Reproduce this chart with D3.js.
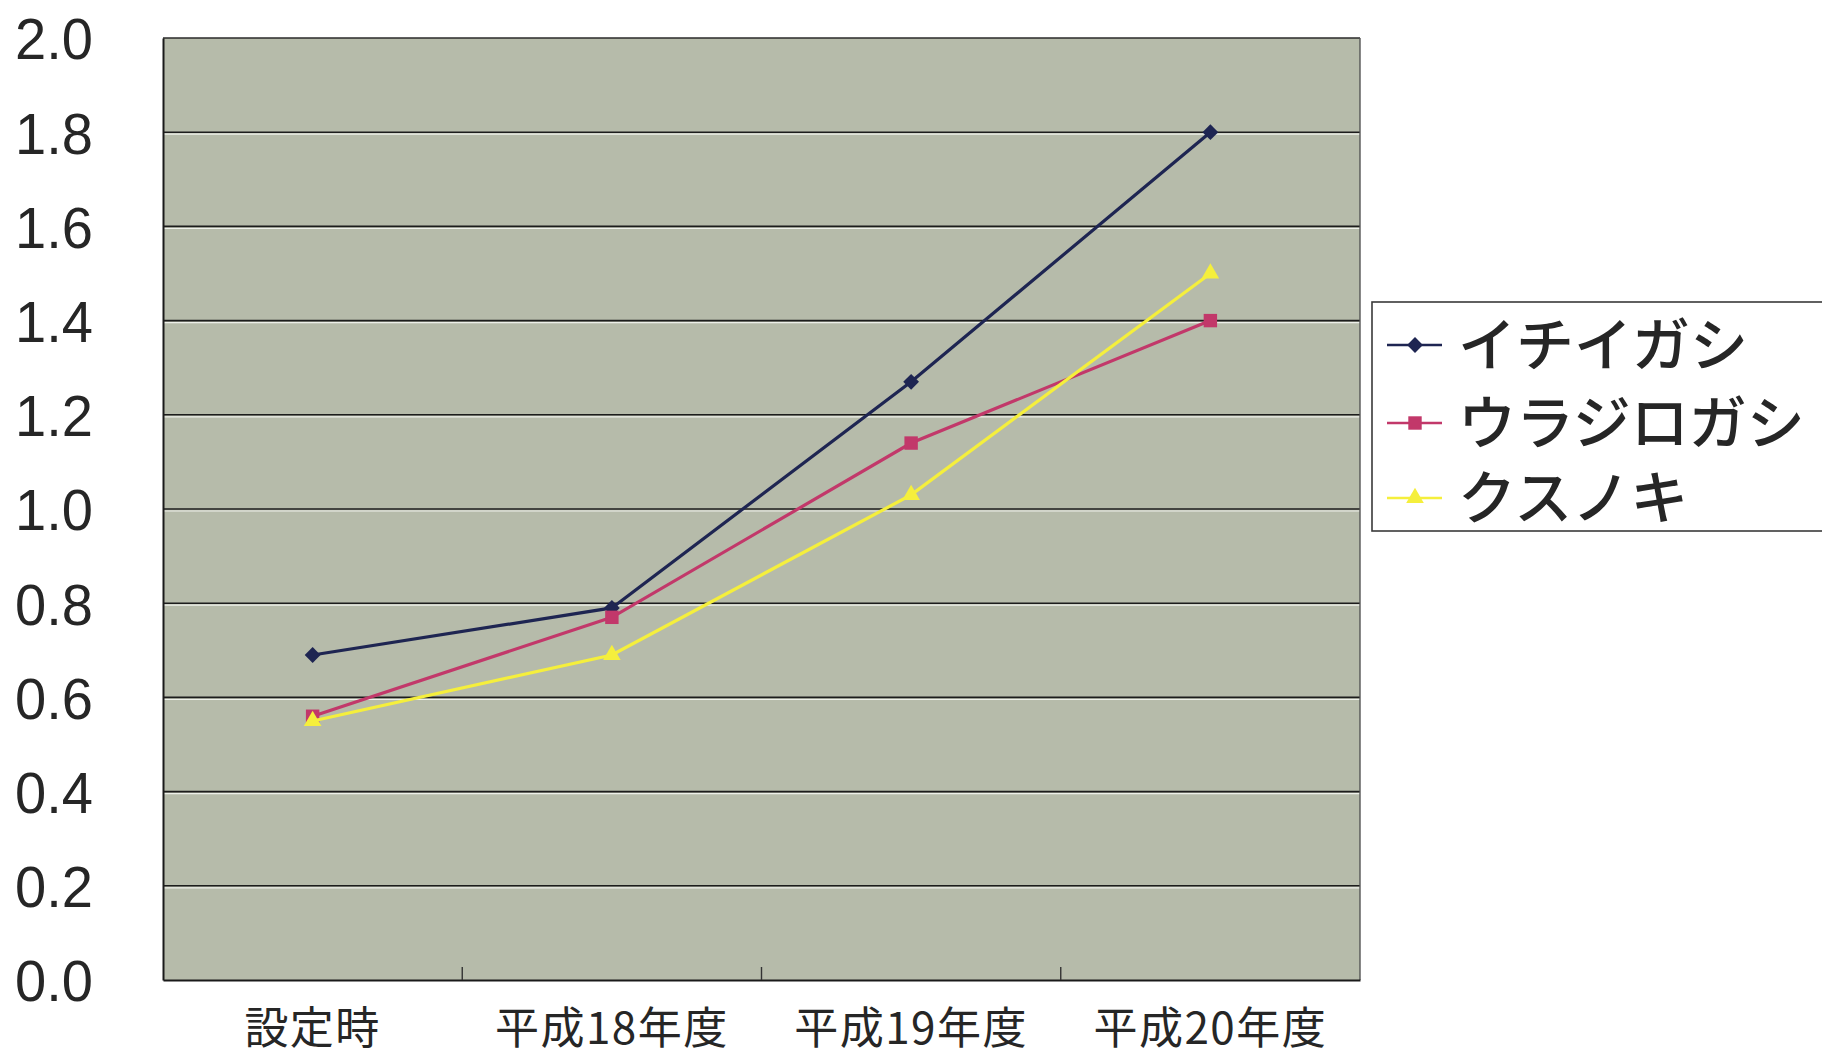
<!DOCTYPE html>
<html>
<head>
<meta charset="utf-8">
<script src="https://cdn.jsdelivr.net/npm/d3@7"></script>
<style>
  html, body { margin: 0; padding: 0; background: #ffffff; }
  svg { display: block; }
</style>
</head>
<body>
<svg id="chart" width="1822" height="1058"></svg>
<script>
// Categories (survey timing) and y-axis ticks
const categories = ["設定時", "平成18年度", "平成19年度", "平成20年度"];
const yTicks = [0.0, 0.2, 0.4, 0.6, 0.8, 1.0, 1.2, 1.4, 1.6, 1.8, 2.0];

// Series values per species
const seriesNames = ["イチイガシ", "ウラジロガシ", "クスノキ"];
const ichiigashi = [0.69, 0.79, 1.27, 1.80];
const urajirogashi = [0.56, 0.77, 1.14, 1.40];
const kusunoki = [0.55, 0.69, 1.03, 1.50];

const seriesValues = [ichiigashi, urajirogashi, kusunoki];
const seriesColors = ["#1e2552", "#c2386a", "#f5ef3c"];
// Diamond = square turned 45 degrees
const seriesSymbols = [d3.symbolSquare, d3.symbolSquare, d3.symbolTriangle];
const symbolRotate = [45, 0, 0];
const symbolSizes = [125, 180, 135];

const svg = d3.select("#chart");

const plot = { left: 163, right: 1360, top: 38, bottom: 980 };

const x = d3.scaleBand().domain(categories).range([plot.left, plot.right]).padding(0);
const y = d3.scaleLinear().domain([0, 2]).range([plot.bottom, plot.top]);

// Plot area background
svg.append("rect")
  .attr("x", plot.left).attr("y", plot.top)
  .attr("width", plot.right - plot.left).attr("height", plot.bottom - plot.top)
  .attr("fill", "#b6bbaa");

// Horizontal gridlines with a light edge beneath each
const gridVals = yTicks.filter(t => t > 0 && t < 2);
const grid = svg.append("g");
grid.selectAll("line.hi")
  .data(gridVals)
  .join("line")
  .attr("class", "hi")
  .attr("x1", plot.left).attr("x2", plot.right)
  .attr("y1", d => y(d) + 2).attr("y2", d => y(d) + 2)
  .attr("stroke", "#eef0ea").attr("stroke-width", 1.2);
grid.selectAll("line.g")
  .data(gridVals)
  .join("line")
  .attr("class", "g")
  .attr("x1", plot.left).attr("x2", plot.right)
  .attr("y1", d => y(d)).attr("y2", d => y(d))
  .attr("stroke", "#1c1c1c").attr("stroke-width", 1.6);

// Plot frame
svg.append("line").attr("x1", plot.left).attr("x2", plot.right).attr("y1", plot.top).attr("y2", plot.top)
  .attr("stroke", "#2a2a2a").attr("stroke-width", 1.6);
svg.append("line").attr("x1", plot.right).attr("x2", plot.right).attr("y1", plot.top).attr("y2", plot.bottom)
  .attr("stroke", "#555").attr("stroke-width", 1.4);

// Y axis
const yAxis = d3.axisLeft(y).tickValues(yTicks).tickFormat(d3.format(".1f")).tickSize(0).tickPadding(0);
const yg = svg.append("g").attr("transform", `translate(${plot.left},0)`).call(yAxis);
yg.select(".domain").attr("stroke", "#1a1a1a").attr("stroke-width", 2);
yg.selectAll("text")
  .attr("x", 93 - plot.left)
  .attr("dy", "0.36em")
  .attr("fill", "#262626")
  .style("font-family", "'Liberation Sans', Arial, sans-serif")
  .style("font-size", "58px")
  .attr("text-anchor", "end")
  .attr("textLength", 78)
  .attr("lengthAdjust", "spacingAndGlyphs");

// X axis: ticks between categories, pointing into the plot
const xAxis = d3.axisBottom(x).tickSize(0).tickPadding(0);
const xg = svg.append("g").attr("transform", `translate(0,${plot.bottom})`).call(xAxis);
xg.select(".domain").attr("stroke", "#1a1a1a").attr("stroke-width", 2);
xg.selectAll("text")
  .attr("y", 64)
  .attr("dy", 0)
  .attr("fill", "#262626")
  .style("font-family", "'Noto Sans CJK JP', sans-serif")
  .style("font-size", "44px")
  .style("letter-spacing", "1.5px");
xg.selectAll("line.sep")
  .data(categories.slice(1))
  .join("line")
  .attr("class", "sep")
  .attr("x1", d => x(d)).attr("x2", d => x(d))
  .attr("y1", 0).attr("y2", -13)
  .attr("stroke", "#333").attr("stroke-width", 1.4);

// Series lines and markers
const line = d3.line()
  .x((d, i) => x(categories[i]) + x.bandwidth() / 2)
  .y(d => y(d));

seriesValues.forEach((vals, s) => {
  const g = svg.append("g");
  g.append("path")
    .datum(vals)
    .attr("d", line)
    .attr("fill", "none")
    .attr("stroke", seriesColors[s])
    .attr("stroke-width", 3.2);
  g.selectAll("path.m")
    .data(vals)
    .join("path")
    .attr("class", "m")
    .attr("transform", (d, i) => `translate(${x(categories[i]) + x.bandwidth() / 2},${y(d)}) rotate(${symbolRotate[s]})`)
    .attr("d", d3.symbol().type(seriesSymbols[s]).size(symbolSizes[s]))
    .attr("fill", seriesColors[s]);
});

// Legend
const legend = svg.append("g");
legend.append("rect")
  .attr("x", 1372).attr("y", 302)
  .attr("width", 470).attr("height", 229)
  .attr("fill", "#ffffff")
  .attr("stroke", "#3a3a3a").attr("stroke-width", 1.6);

const rowY = [345, 423, 498];
seriesNames.forEach((name, s) => {
  const row = legend.append("g").attr("transform", `translate(0,${rowY[s]})`);
  row.append("line")
    .attr("x1", 1387).attr("x2", 1442).attr("y1", 0).attr("y2", 0)
    .attr("stroke", seriesColors[s]).attr("stroke-width", 2.5);
  row.append("path")
    .attr("transform", `translate(1415,0) rotate(${symbolRotate[s]})`)
    .attr("d", d3.symbol().type(seriesSymbols[s]).size(symbolSizes[s]))
    .attr("fill", seriesColors[s]);
  row.append("text")
    .attr("x", 1458).attr("y", 0).attr("dy", "0.36em")
    .attr("fill", "#262626")
    .style("font-family", "'Noto Sans CJK JP', sans-serif")
    .style("font-size", "58px")
    .style("font-weight", 500)
    .text(name);
});
</script>
</body>
</html>
